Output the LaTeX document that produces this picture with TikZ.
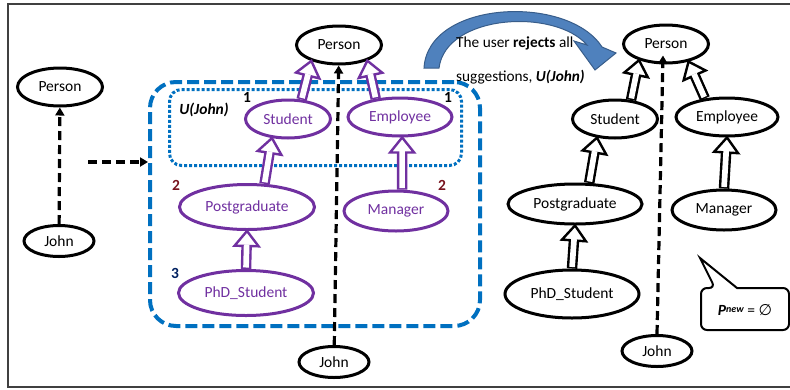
\documentclass[tikz,border=0pt]{standalone}
\usepackage{fontspec}
\setmainfont{Carlito}
\newfontfamily\dejavu{DejaVu Sans}
\usetikzlibrary{shapes.geometric,arrows.meta,decorations.markings,positioning}
\definecolor{boxblue}{RGB}{0,112,192}
\definecolor{upurple}{RGB}{112,48,160}
\definecolor{rankred}{RGB}{120,20,30}
\definecolor{ranknavy}{RGB}{0,32,96}
\definecolor{bendfill}{RGB}{79,129,189}
\definecolor{bendline}{RGB}{56,93,138}
\def\basefont{\fontsize{15.5}{18}\selectfont}

\begin{document}
\begin{tikzpicture}[x=1pt,y=-1pt,font=\basefont]
		\tikzstyle{concept}=[ellipse,draw=black,line width=3pt,inner sep=0pt,minimum width=85pt,minimum height=38pt]
		\tikzstyle{user concept}=[concept,draw=upurple,text=upurple]
		% hollow block arrow: outer shaft, head, then white core
		\tikzstyle{isa}=[draw=black,line width=10.5pt,shorten >=15pt,
			postaction={decorate,decoration={markings,mark=at position 1 with
				{\draw[line width=2.4pt,fill=white,line join=miter,shorten >=0pt] (0pt,0pt) -- (-15pt,12pt) -- (-15pt,-12pt) -- cycle;}}},
			postaction={draw=white,line width=5.7pt,shorten >=13.6pt,shorten <=1.5pt}]
		\tikzstyle{isa user}=[isa,draw=upurple]
		\tikzstyle{type link}=[draw=black,line width=3.2pt,dash pattern=on 9pt off 5pt,-{Triangle[length=8pt,width=9pt]}]
		\tikzstyle{rank}=[font=\basefont\bfseries,inner sep=0pt]
		\useasboundingbox (0,0) rectangle (790,389);

		% Frame
		\draw[line width=1.5pt,draw=black!75] (795,4) -- (8,4) -- (8,387) -- (795,387);

		% Left: the user John and his type
		\node[concept] (lPerson) at (60,87) {Person};
		\node[concept,minimum width=70pt,minimum height=31pt] (lJohn) at (59,241) {John};
		\path[type link] (lJohn) -- (lPerson);

		% Middle: suggestions U(John)
		\node[draw=boxblue,line width=4pt,dash pattern=on 12pt off 5pt,rounded corners=26pt,minimum width=330pt,minimum height=244pt] (ubox) at (315,204) {};
		\node[draw=boxblue,line width=3pt,dash pattern=on 3pt off 2pt,rounded corners=12pt,minimum width=292pt,minimum height=76pt] (ujohn) at (315.5,127.5) {};
		\node[font=\basefont\bfseries\itshape] (ulabel) at (204,110) {U(John)};
		\coordinate (hstart) at (88,162);
		\path[type link] (hstart) -- (hstart -| ubox.west);

		\node[concept] (pPerson) at (339,45) {Person};
		\node[user concept] (pStudent) at (288,119) {Student};
		\node[user concept,minimum width=104pt] (pEmployee) at (400,117) {Employee};
		\node[user concept,minimum width=135pt,minimum height=45pt] (pPostgrad) at (247,207) {Postgraduate};
		\node[user concept,minimum width=104pt,minimum height=40pt] (pManager) at (396,211) {Manager};
		\node[user concept,minimum width=135pt,minimum height=45pt] (pPhD) at (246,293) {PhD\_Student};
		\node[concept,minimum width=70pt,minimum height=31pt] (mJohn) at (334,362) {John};

		% Ranks of the suggestions
		\node[rank] (r1a) at (247,97) {1};
		\node[rank] (r1b) at (448,97) {1};
		\node[rank,text=rankred] (r2a) at (176,185) {2};
		\node[rank,text=rankred] (r2b) at (442,185) {2};
		\node[rank,text=ranknavy] (r3) at (175,273) {3};

		\path[isa user] (pStudent.55) -- (pPerson.210);
		\path[isa user] (pEmployee.143) -- (pPerson.331);
		\path[isa user] (pPostgrad.53) -- (pStudent.230);
		\path[isa user] (pManager.74) -- (pEmployee.276);
		\path[isa user] (pPhD.north) -- (pPostgrad.south);
		\path[type link] (mJohn) -- (pPerson);

		% Curved arrow and its text
		\filldraw[fill=bendfill,draw=bendline,line width=1pt] (424,68) .. controls (428,0) and (568,-6) .. (602,47)
			-- (616,53) -- (595,70) -- (574,41) -- (587,45) .. controls (555,8) and (446,14) .. (439,68) -- cycle;
		\node[anchor=west,inner sep=0pt,font=\fontsize{15.3}{18}\selectfont] (reject) at (456,43) {The user \textbf{rejects} all};
		\node[anchor=west,inner sep=0pt,font=\fontsize{15.3}{18}\selectfont] (sugg) at (456,77) {suggestions, \textbf{\textit{U(John)}}};

		% Right: after the rejection
		\node[concept] (rPerson) at (666,44) {Person};
		\node[concept] (rStudent) at (615,119) {Student};
		\node[concept,minimum width=102pt] (rEmployee) at (727,117) {Employee};
		\node[concept,minimum width=134pt,minimum height=40pt] (rPostgrad) at (575,204) {Postgraduate};
		\node[concept,minimum width=104pt,minimum height=40pt] (rManager) at (724,210) {Manager};
		\node[concept,minimum width=134pt,minimum height=48pt] (rPhD) at (572,294) {PhD\_Student};
		\node[concept,minimum width=70pt,minimum height=31pt] (rJohn) at (657,351) {John};

		\path[isa] (rStudent.50) -- (rPerson.211);
		\path[isa] (rEmployee.140) -- (rPerson.322);
		\path[isa] (rPostgrad.56) -- (rStudent.226);
		\path[isa] (rManager.north) -- (rEmployee.south);
		\path[isa] (rPhD.north) -- (rPostgrad.south);
		\path[type link] (rJohn.north) -- ([xshift=-3pt,yshift=9pt]rPerson.south);

		% Callout
		\draw[line width=2pt,rounded corners=6pt] (715,288) [sharp corners] -- (700,258) -- (737,288) [rounded corners=6pt] -- (789,288) -- (789,330) -- (701,330) -- (701,288) -- cycle;
		\node (pnew) at (745,310) {\textbf{\textit{P}}\raisebox{0.45ex}{\fontsize{10}{12}\selectfont\textbf{\textit{new}}} = {\dejavu ∅}};
	\end{tikzpicture}
\end{document}
